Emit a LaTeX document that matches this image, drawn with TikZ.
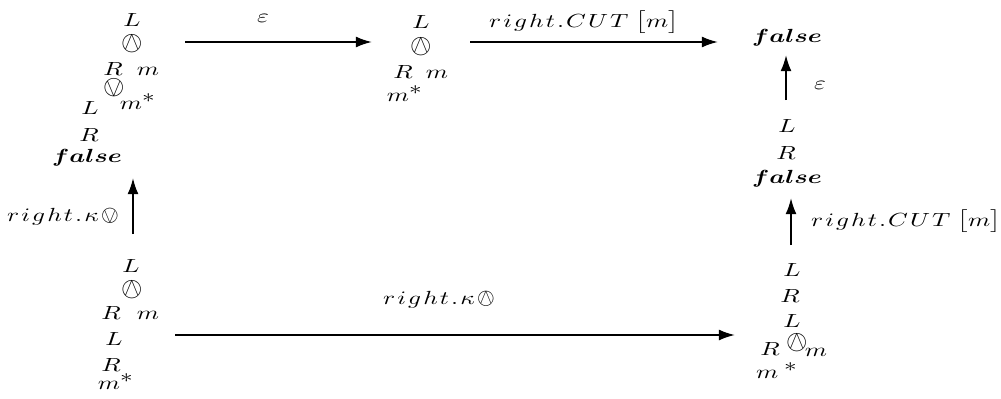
\documentclass[tikz,border=0pt]{standalone}
\usepackage{amsmath,amssymb,bm}
\usepackage{stmaryrd}
\usepackage{graphicx}
\usetikzlibrary{arrows.meta}

\newcommand{\st}[1]{\scalebox{1.33}[1]{#1}}
\newcommand{\lsp}{\mkern1.5mu}
\newcommand{\fls}{\bm{false}}
\newcommand{\rgt}{r\lsp i\lsp g\lsp h\lsp t\lsp .\lsp}
\newcommand{\mst}{m^{\textstyle *}}
\newcommand{\tand}{\scalebox{1.45}{$\owedge$}}
\newcommand{\tor}{\scalebox{1.45}{$\ovee$}}

\tikzset{
	tm/.style = {inner sep=0pt, anchor=center},
	rule/.style = {line width=1.05pt, -{Latex[length=8.5pt,width=5.8pt]}},
	rlbl/.style = {inner sep=0pt, anchor=center}
}

\begin{document}
\begin{tikzpicture}[x=0.0185cm, y=-0.0185cm]
	\useasboundingbox (0,0) rectangle (1001,398);
	% top left
	\node[tm] (tlL) at (132,20) {\st{$L$}};
	\node[tm] (tlAnd) at (132,44) {\tand};
	\node[tm] (tlR) at (113,69) {\st{$R$}};
	\node[tm] (tlm) at (148,71) {\st{$m$}};
	\node[tm] (tlOr) at (114,88) {\tor};
	\node[tm] (tlms) at (138,102) {\st{$\mst$}};
	\node[tm] (tlL2) at (90,108) {\st{$L$}};
	\node[tm] (tlR2) at (89,135) {\st{$R$}};
	\node[tm] (tlF) at (87,158) {\st{$\fls$}};
	% top middle
	\node[tm] (tmL) at (421,22) {\st{$L$}};
	\node[tm] (tmAnd) at (421,47) {\tand};
	\node[tm] (tmR) at (403,72) {\st{$R$}};
	\node[tm] (tmm) at (437,74) {\st{$m$}};
	\node[tm] (tmms) at (405,94) {\st{$\mst$}};
	% top right
	\node[tm] (trF) at (787,38) {\st{$\fls$}};
	% middle right
	\node[tm] (mrL) at (787,126) {\st{$L$}};
	\node[tm] (mrR) at (786,153) {\st{$R$}};
	\node[tm] (mrF) at (787,179) {\st{$\fls$}};
	% bottom left
	\node[tm] (blL) at (131,266) {\st{$L$}};
	\node[tm] (blAnd) at (132,290) {\tand};
	\node[tm] (blR) at (111,313) {\st{$R$}};
	\node[tm] (blm) at (148,315) {\st{$m$}};
	\node[tm] (blL2) at (114,339) {\st{$L$}};
	\node[tm] (blR2) at (111,365) {\st{$R$}};
	\node[tm] (blms) at (116,382) {\st{$\mst$}};
	% bottom right
	\node[tm] (brL) at (792,270) {\st{$L$}};
	\node[tm] (brR) at (790,296) {\st{$R$}};
	\node[tm] (brL2) at (792,321) {\st{$L$}};
	\node[tm] (brAnd) at (797,343) {\tand};
	\node[tm] (brR2) at (770,349) {\st{$R$}};
	\node[tm] (brm) at (816,352) {\st{$m$}};
	\node[tm] (brms) at (777,371) {\st{$m^{\;\textstyle *}$}};

	% rule steps
	\coordinate (t1a) at (185,42);
	\coordinate (t1b) at (372,42);
	\coordinate (t2a) at (470,42);
	\coordinate (t2b) at (718,42);
	\coordinate (lva) at (133,234);
	\coordinate (lvb) at (133,178);
	\coordinate (ba) at (175,335);
	\coordinate (bb) at (735,335);
	\coordinate (r1a) at (791,245);
	\coordinate (r1b) at (791,198);
	\coordinate (r2a) at (786,100);
	\coordinate (r2b) at (786,55);
	\draw[rule] (t1a) -- (t1b);
	\draw[rule] (t2a) -- (t2b);
	\draw[rule] (lva) -- (lvb);
	\draw[rule] (ba) -- (bb);
	\draw[rule] (r1a) -- (r1b);
	\draw[rule] (r2a) -- (r2b);
	\node[rlbl] (t1l) at (263,18) {\st{$\varepsilon$}};
	\node[rlbl, anchor=base] (t2l) at (584,27) {\st{$\rgt C\lsp U\lsp T\;\bigl[m\bigr]$}};
	\node[rlbl] (lvl) at (63,217) {\st{$\rgt\kappa\lsp$}\scalebox{1.2}{$\ovee$}};
	\node[rlbl] (bl) at (439,300) {\st{$\rgt\kappa\lsp$}\scalebox{1.2}{$\owedge$}};
	\node[rlbl, anchor=base] (r1l) at (906,226) {\st{$\rgt C\lsp U\lsp T\;\bigl[m\bigr]$}};
	\node[rlbl] (r2l) at (820,85) {\st{$\varepsilon$}};
\end{tikzpicture}
\end{document}
